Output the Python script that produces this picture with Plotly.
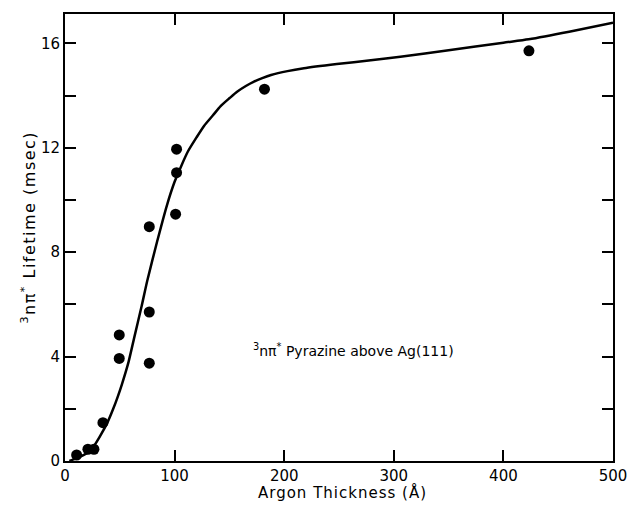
import plotly.graph_objects as go

# Measured points (Argon thickness in Å, lifetime in msec)
pts_x = [10.6, 20.9, 26.4, 34.6, 49.5, 49.5, 76.9, 76.9, 76.9, 101.8, 101.8, 100.9, 182, 423.3]
pts_y = [0.23, 0.45, 0.45, 1.47, 4.83, 3.93, 8.98, 5.71, 3.75, 11.95, 11.05, 9.46, 14.25, 15.72]

# Fitted curve
fit_x = [4, 10, 20, 26, 32, 39, 44, 48, 52, 58, 63, 70, 75, 84, 93, 100, 106, 112, 120, 127, 135,
         142, 150, 157, 165, 172, 180, 188, 203, 218, 248, 279, 306, 350, 400, 423, 460, 500]
fit_y = [0, 0.1, 0.3, 0.55, 0.95, 1.5, 2.0, 2.45, 2.95, 3.8, 4.7, 5.95, 6.9, 8.4, 9.8, 10.7, 11.3,
         11.85, 12.4, 12.85, 13.25, 13.6, 13.9, 14.15, 14.37, 14.53, 14.67, 14.79, 14.94, 15.05,
         15.21, 15.36, 15.49, 15.74, 16.03, 16.16, 16.45, 16.8]

x_ticks = [0, 100, 200, 300, 400, 500]
y_ticks = [0, 4, 8, 12, 16]
y_minor_step = 2

FONT = "DejaVu Sans"

fig = go.Figure()
fig.add_trace(go.Scatter(x=fit_x, y=fit_y, mode="lines",
                         line=dict(color="black", width=2.5, shape="spline", smoothing=0.6),
                         showlegend=False, hoverinfo="skip"))
fig.add_trace(go.Scatter(x=pts_x, y=pts_y, mode="markers",
                         marker=dict(color="black", size=11),
                         showlegend=False))

fig.add_annotation(text="<sup>3</sup>nπ<sup>*</sup> Pyrazine above Ag(111)",
                   x=0.526, y=0.248, xref="paper", yref="paper", showarrow=False,
                   xanchor="center", yanchor="middle",
                   font=dict(family=FONT, size=14, color="black"))

fig.add_annotation(text='<span style="letter-spacing:1px">Argon Thickness (Å)</span>',
                   x=0.507, y=-0.071, xref="paper", yref="paper", showarrow=False,
                   xanchor="center", yanchor="middle",
                   font=dict(family=FONT, size=15, color="black"))

fig.add_annotation(text='<span style="letter-spacing:1.5px"><sup>3</sup>nπ<sup>*</sup> Lifetime (msec)</span>',
                   x=-0.066, y=0.524, xref="paper", yref="paper", showarrow=False,
                   xanchor="center", yanchor="middle", textangle=-90,
                   font=dict(family=FONT, size=16, color="black"))

axis_common = dict(ticks="inside", ticklen=11, tickwidth=1.5, tickcolor="black",
                   showline=True, linewidth=2, linecolor="black", mirror="ticks",
                   showgrid=False, zeroline=False, automargin=False,
                   tickfont=dict(family=FONT, size=15, color="black"))

# The page body adds an 8px offset, so the figure is 8px smaller than the window.
fig.update_layout(
    width=628, height=497,
    margin=dict(l=57, r=23, t=6, b=44),
    paper_bgcolor="white", plot_bgcolor="white",
    font=dict(family=FONT, color="black"),
    xaxis=dict(range=[0, 500], tickvals=x_ticks, **axis_common),
    yaxis=dict(range=[0, 17.13], tickvals=y_ticks,
               minor=dict(dtick=y_minor_step, tick0=0, ticks="inside", ticklen=11,
                          tickwidth=1.5, tickcolor="black", showgrid=False),
               **axis_common),
)

fig.write_html("out.html")
